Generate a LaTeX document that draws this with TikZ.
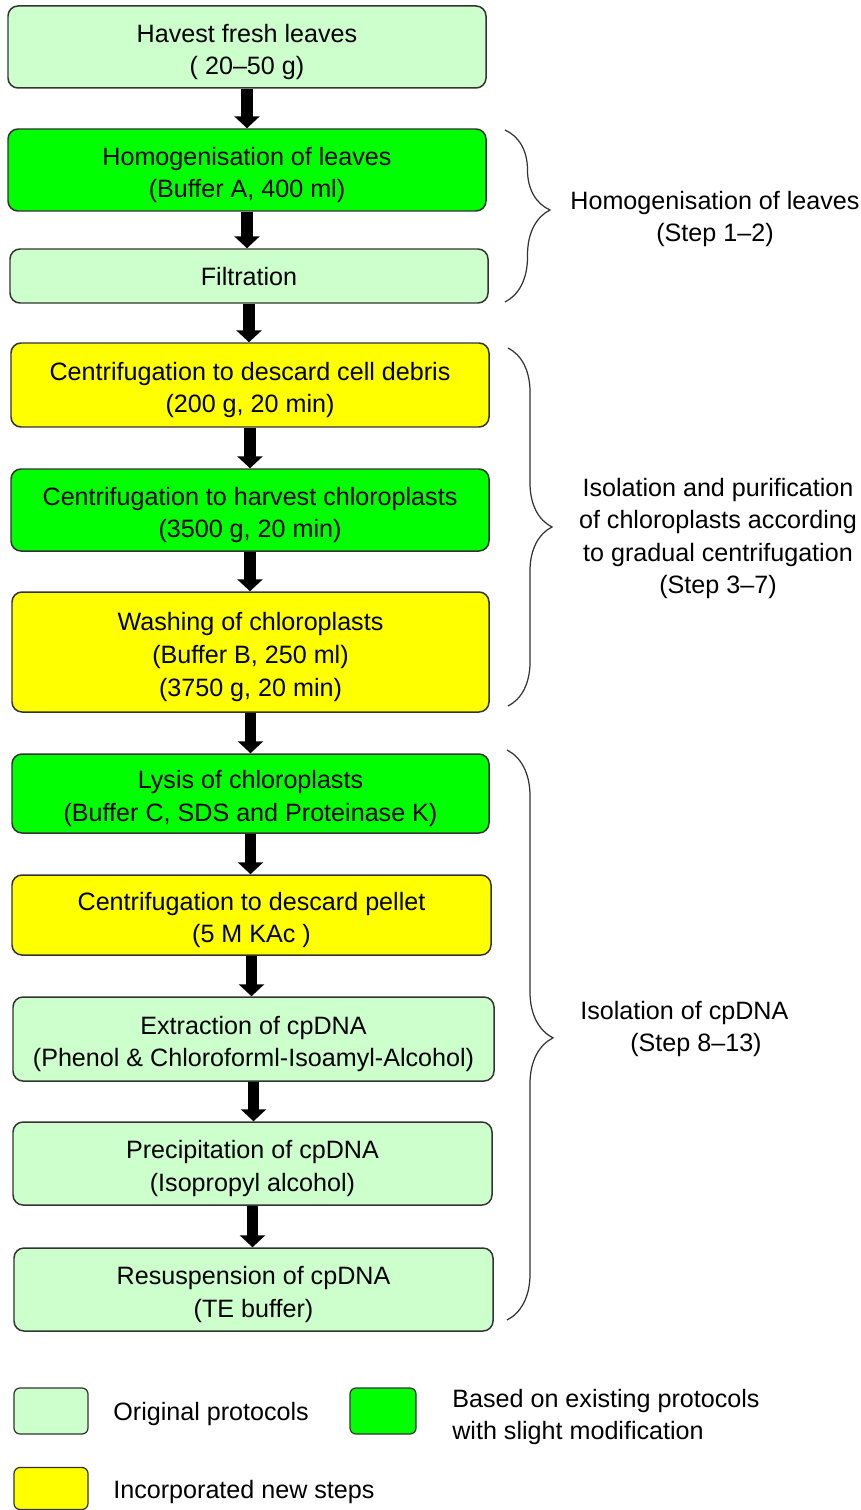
\documentclass[tikz,border=0pt]{standalone}
\usepackage{fontspec}
\setmainfont{Liberation Sans}
\usetikzlibrary{arrows.meta,decorations.pathreplacing}
\definecolor{lgreen}{HTML}{CCFFCC}
\definecolor{bgreen}{HTML}{00FF00}
\definecolor{byellow}{HTML}{FFFF00}
\definecolor{edge}{HTML}{333333}
\tikzset{
  lbl/.style={font=\fontsize{14.3}{18.5}\selectfont, inner sep=0pt},
  stepbox/.style={draw=edge, line width=0.85pt, rounded corners=0.2cm, inner sep=0pt},
  txt/.style={label={[lbl,align=center,yshift=-0.1cm]center:#1}},
  txtone/.style={label={[lbl,align=center,yshift=-0.02cm]center:#1}},
  arr/.style={line width=6.8pt, -{Triangle[width=14.2pt,length=6.8pt]}, black},
  brc/.style={draw=edge, line width=0.7pt, decorate},
  legbox/.style={draw=edge, line width=0.7pt, rounded corners=0.12cm, inner sep=0pt},
}
\begin{document}
\begin{tikzpicture}[x=0.02cm,y=-0.02cm]
\useasboundingbox (0,0) rectangle (860,1510);
% steps
\node[stepbox, fill=lgreen, minimum width=478*0.02cm, minimum height=82*0.02cm, txt={Havest fresh leaves\\( 20–50 g)}] (n1) at (247,47) {};
\node[stepbox, fill=bgreen, minimum width=478*0.02cm, minimum height=82*0.02cm, txt={Homogenisation of leaves\\(Buffer A, 400 ml)}] (n2) at (247,170) {};
\node[stepbox, fill=lgreen, minimum width=478*0.02cm, minimum height=54*0.02cm, txtone={Filtration}] (n3) at (249,276) {};
\node[stepbox, fill=byellow, minimum width=478*0.02cm, minimum height=84*0.02cm, txt={Centrifugation to descard cell debris\\(200 g, 20 min)}] (n4) at (250,385) {};
\node[stepbox, fill=bgreen, minimum width=478*0.02cm, minimum height=82*0.02cm, txt={Centrifugation to harvest chloroplasts\\(3500 g, 20 min)}] (n5) at (250,510) {};
\node[stepbox, fill=byellow, minimum width=477*0.02cm, minimum height=120*0.02cm, txt={Washing of chloroplasts\\(Buffer B, 250 ml)\\(3750 g, 20 min)}] (n6) at (250.5,652) {};
\node[stepbox, fill=bgreen, minimum width=477*0.02cm, minimum height=79*0.02cm, txt={Lysis of chloroplasts\\(Buffer C, SDS and Proteinase K)}] (n7) at (250.5,793.5) {};
\node[stepbox, fill=byellow, minimum width=479*0.02cm, minimum height=80*0.02cm, txt={Centrifugation to descard pellet\\(5 M KAc )}] (n8) at (251.5,915) {};
\node[stepbox, fill=lgreen, minimum width=481*0.02cm, minimum height=84*0.02cm, txt={Extraction of cpDNA\\(Phenol \& Chloroforml-Isoamyl-Alcohol)}] (n9) at (253.5,1039) {};
\node[stepbox, fill=lgreen, minimum width=479*0.02cm, minimum height=83*0.02cm, txt={Precipitation of cpDNA\\(Isopropyl alcohol)}] (n10) at (252.5,1163.5) {};
\node[stepbox, fill=lgreen, minimum width=479*0.02cm, minimum height=83*0.02cm, txt={Resuspension of cpDNA\\(TE buffer)}] (n11) at (253.5,1289.5) {};
% arrows
\foreach \a/\b in {n1/n2,n2/n3,n3/n4,n4/n5,n5/n6,n6/n7,n7/n8,n8/n9,n9/n10,n10/n11}
  \draw[arr] (\a.south) -- (\a.south |- \b.north);
% braces
\coordinate (b1t) at (505,130); \coordinate (b1b) at (505,302);
\coordinate (b2t) at (508,348); \coordinate (b2b) at (508,706);
\coordinate (b3t) at (507,750); \coordinate (b3b) at (507,1320);
\draw[brc, decoration={brace, amplitude=0.9cm, aspect=0.465}] (b1t) -- (b1b);
\draw[brc, decoration={brace, amplitude=0.88cm, aspect=0.5}] (b2t) -- (b2b);
\draw[brc, decoration={brace, amplitude=0.92cm, aspect=0.505}] (b3t) -- (b3b);
\node[lbl, align=center] (l1) at (715,219) {Homogenisation of leaves\\(Step 1–2)};
\node[lbl, align=center] (l2) at (718,538.5) {Isolation and purification\\of chloroplasts according\\to gradual centrifugation\\(Step 3–7)};
\node[lbl, align=left, anchor=west] (l3) at (580,1029) {Isolation of cpDNA\\\hspace*{1cm}(Step 8–13)};
% legend
\node[legbox, fill=lgreen, minimum width=74*0.02cm, minimum height=46*0.02cm] (k1) at (51,1411) {};
\node[legbox, fill=bgreen, minimum width=66*0.02cm, minimum height=46*0.02cm] (k2) at (383,1411) {};
\node[legbox, fill=byellow, minimum width=74*0.02cm, minimum height=42*0.02cm] (k3) at (51,1488.5) {};
\node[lbl, anchor=west] (t1) at (113,1414) {Original protocols};
\node[lbl, anchor=west, align=left] (t2) at (452,1417) {Based on existing protocols\\with slight modification};
\node[lbl, anchor=west] (t3) at (113,1492) {Incorporated new steps};
\end{tikzpicture}
\end{document}
